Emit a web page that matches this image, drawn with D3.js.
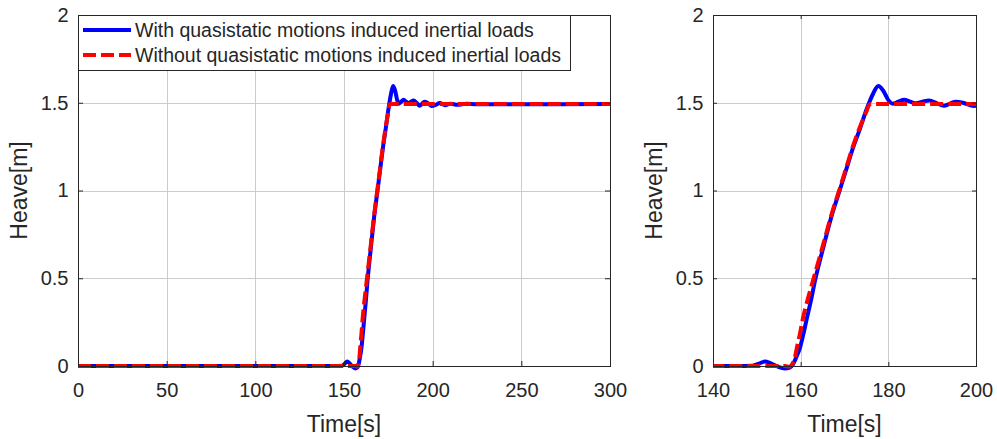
<!DOCTYPE html>
<html>
<head>
<meta charset="utf-8">
<script src="https://cdn.jsdelivr.net/npm/d3@7"></script>
<style>
  body { margin: 0; background: #fff; }
  svg { display: block; }
  text { font-family: "Liberation Sans", Arial, sans-serif; fill: #262626; }
</style>
</head>
<body>
<svg id="chart" width="997" height="439"></svg>
<script>
// Heave response of the platform, with and without the quasistatic inertial loads
const timeWith = [0, 145, 149, 150.5, 151.8, 153.2, 154.8, 156.4, 157.5, 158.2, 159, 159.8, 160.6, 161.4,
  162.4, 163.3, 165, 167, 168.9, 170.4, 171.9, 173.5, 175, 176.5, 177.7, 178.8, 180, 181, 182.3, 183.6,
  185, 186.3, 187.8, 189.3, 191, 192.7, 194, 195.4, 197.2, 199.5, 201.5, 204, 207, 210, 214, 219, 225, 300];
const heaveWith = [0, 0, 0.002, 0.014, 0.025, 0.015, -0.004, -0.014, -0.009, 0.008, 0.05, 0.1, 0.18, 0.27,
  0.38, 0.49, 0.66, 0.85, 1.0, 1.12, 1.24, 1.35, 1.46, 1.55, 1.595, 1.57, 1.515, 1.495, 1.506, 1.517,
  1.506, 1.497, 1.506, 1.513, 1.498, 1.483, 1.494, 1.506, 1.499, 1.482, 1.487, 1.499, 1.486, 1.495, 1.488, 1.494, 1.491, 1.493];

const timeWithout = [0, 156.5, 157.3, 158, 158.6, 159.1, 159.8, 160.5, 161.5, 162.4, 163.3, 165, 167,
  168.9, 170.4, 171.9, 173.5, 175, 175.7, 176.3, 300];
const heaveWithout = [0, 0, -0.004, 0.008, 0.04, 0.1, 0.18, 0.27, 0.37, 0.45, 0.53, 0.68, 0.86,
  1.01, 1.13, 1.25, 1.36, 1.45, 1.49, 1.493, 1.493];

const seriesNames = ["With quasistatic motions induced inertial loads",
                     "Without quasistatic motions induced inertial loads"];
const seriesColors = ["#0000ff", "#ff0000"];

const heaveTicks = [0, 0.5, 1, 1.5, 2];
const heaveTickLabels = ["0", "0.5", "1", "1.5", "2"];
const timeTicksFull = [0, 50, 100, 150, 200, 250, 300];
const timeTicksZoom = [140, 160, 180, 200];
const xLabel = "Time[s]";
const yLabel = "Heave[m]";

const withData = timeWith.map((t, i) => ({ t, v: heaveWith[i] }));
const withoutData = timeWithout.map((t, i) => ({ t, v: heaveWithout[i] }));

const svg = d3.select("#chart");
const yTop = 15, yBottom = 366;
const y = d3.scaleLinear().domain([0, 2]).range([yBottom, yTop]);

const panels = [
  { x0: 78, x1: 610, domain: [0, 300], ticks: timeTicksFull, tickLen: 5, legend: true, ylabX: 27 },
  { x0: 713, x1: 976, domain: [140, 200], ticks: timeTicksZoom, tickLen: 4, legend: false, ylabX: 662 }
];

panels.forEach((p, k) => {
  const x = d3.scaleLinear().domain(p.domain).range([p.x0, p.x1]);
  const g = svg.append("g");
  const w = p.x1 - p.x0, h = yBottom - yTop;

  // grid
  g.append("g").selectAll("line").data(p.ticks).join("line")
    .attr("x1", d => Math.round(x(d)) + 0.5).attr("x2", d => Math.round(x(d)) + 0.5)
    .attr("y1", yTop).attr("y2", yBottom)
    .attr("stroke", "#cccccc").attr("stroke-width", 1);
  g.append("g").selectAll("line").data(heaveTicks).join("line")
    .attr("y1", d => Math.round(y(d)) + 0.5).attr("y2", d => Math.round(y(d)) + 0.5)
    .attr("x1", p.x0).attr("x2", p.x1)
    .attr("stroke", "#cccccc").attr("stroke-width", 1);

  // series
  const clipId = "clip" + k;
  svg.append("clipPath").attr("id", clipId).append("rect")
    .attr("x", p.x0).attr("y", yTop - 10).attr("width", w).attr("height", h + 20);
  const line = d3.line().x(d => x(d.t)).y(d => y(d.v)).curve(d3.curveMonotoneX);
  const lines = g.append("g").attr("clip-path", `url(#${clipId})`);
  lines.append("path").datum(withData).attr("d", line)
    .attr("fill", "none").attr("stroke", seriesColors[0]).attr("stroke-width", 4)
    .attr("stroke-linejoin", "round");
  lines.append("path").datum(withoutData).attr("d", line)
    .attr("fill", "none").attr("stroke", seriesColors[1]).attr("stroke-width", 4)
    .attr("stroke-dasharray", "13,5");

  // axes (inward ticks on all sides)
  const axB = g.append("g").attr("transform", `translate(0,${yBottom})`)
    .call(d3.axisBottom(x).tickValues(p.ticks).tickSize(-p.tickLen).tickPadding(17).tickFormat(d3.format("d")));
  const axT = g.append("g").attr("transform", `translate(0,${yTop})`)
    .call(d3.axisTop(x).tickValues(p.ticks).tickSize(-p.tickLen).tickFormat(""));
  const axL = g.append("g").attr("transform", `translate(${p.x0},0)`)
    .call(d3.axisLeft(y).tickValues(heaveTicks).tickSize(-p.tickLen).tickPadding(9.5)
      .tickFormat((d, i) => heaveTickLabels[i]));
  const axR = g.append("g").attr("transform", `translate(${p.x1},0)`)
    .call(d3.axisRight(y).tickValues(heaveTicks).tickSize(-p.tickLen).tickFormat(""));
  [axB, axT, axL, axR].forEach(a => {
    a.select(".domain").remove();
    a.selectAll(".tick line").attr("stroke", "#262626");
    a.selectAll("text").attr("font-size", 20).attr("font-family", '"Liberation Sans", Arial, sans-serif')
      .attr("fill", "#262626");
  });

  g.append("rect").attr("x", p.x0 + 0.5).attr("y", yTop + 0.5).attr("width", w).attr("height", h)
    .attr("fill", "none").attr("stroke", "#262626").attr("stroke-width", 1);

  // axis titles
  g.append("text").attr("x", (p.x0 + p.x1) / 2).attr("y", 432).attr("text-anchor", "middle")
    .attr("font-size", 23).text(xLabel);
  g.append("text").attr("transform", `translate(${p.ylabX},${(yTop + yBottom) / 2}) rotate(-90)`)
    .attr("text-anchor", "middle").attr("font-size", 23).text(yLabel);

  if (p.legend) {
    const lg = g.append("g");
    lg.append("rect").attr("x", p.x0 + 0.5).attr("y", yTop + 0.5).attr("width", 492).attr("height", 55)
      .attr("fill", "#fff").attr("stroke", "#262626").attr("stroke-width", 1);
    seriesNames.forEach((name, i) => {
      const ly = 30 + i * 25;
      lg.append("line").attr("x1", p.x0 + 5).attr("x2", p.x0 + 53).attr("y1", ly).attr("y2", ly)
        .attr("stroke", seriesColors[i]).attr("stroke-width", 4)
        .attr("stroke-dasharray", i === 1 ? "13,5" : null);
      lg.append("text").attr("x", p.x0 + 57).attr("y", ly).attr("dy", "0.35em")
        .attr("font-size", 19.5).text(name);
    });
  }
});
</script>
</body>
</html>
